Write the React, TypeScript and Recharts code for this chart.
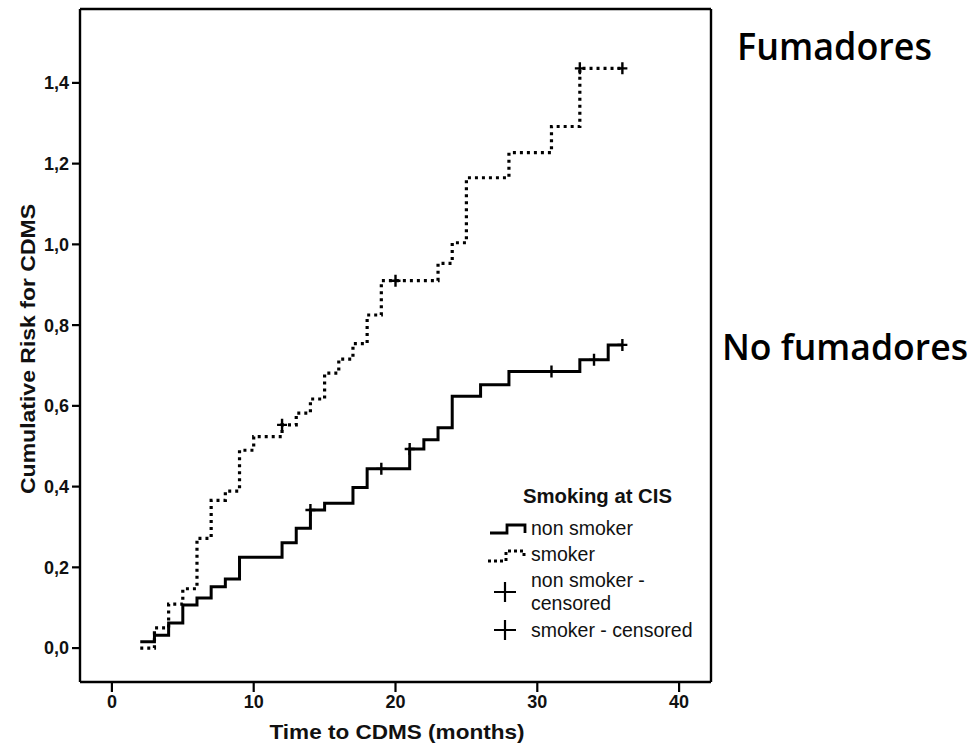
import React from 'react';
import {
  ComposedChart, Line, Scatter, XAxis, YAxis, Legend, Customized,
} from 'recharts';

// Time to CDMS (months) at each step and cumulative risk after the step
const nonSmokerTimes = [2, 3, 4, 5, 6, 7, 8, 9, 12, 13, 14, 15, 17, 18, 21, 22, 23, 24, 26, 28, 33, 35, 36];
const nonSmokerRisk = [0.016, 0.032, 0.062, 0.107, 0.124, 0.152, 0.171, 0.225, 0.261, 0.297, 0.342, 0.359, 0.398, 0.444, 0.493, 0.516, 0.546, 0.624, 0.652, 0.685, 0.714, 0.751, 0.751];

const smokerTimes = [2, 3, 4, 5, 6, 7, 8, 9, 10, 12, 13, 14, 15, 16, 17, 18, 19, 23, 24, 25, 28, 31, 33, 36];
const smokerRisk = [0.0, 0.05, 0.109, 0.147, 0.272, 0.366, 0.389, 0.49, 0.524, 0.553, 0.582, 0.617, 0.681, 0.716, 0.754, 0.825, 0.91, 0.953, 1.004, 1.165, 1.227, 1.292, 1.436, 1.436];

// Censored observations
const nonSmokerCensTimes = [14, 19, 21, 31, 34, 36];
const nonSmokerCensRisk = [0.342, 0.444, 0.493, 0.685, 0.714, 0.751];
const smokerCensTimes = [12, 20, 33, 36];
const smokerCensRisk = [0.553, 0.91, 1.436, 1.436];

const xTicks = [0, 10, 20, 30, 40];
const yTicks = [0, 0.2, 0.4, 0.6, 0.8, 1.0, 1.2, 1.4];
const xDomain = [-2.25, 42.25];
const yDomain = [-0.084, 1.583];

const toRows = (ts: number[], vs: number[]) => ts.map((t, i) => ({ t, risk: vs[i] }));
const nonSmokerData = toRows(nonSmokerTimes, nonSmokerRisk);
const smokerData = toRows(smokerTimes, smokerRisk);
const nonSmokerCens = toRows(nonSmokerCensTimes, nonSmokerCensRisk);
const smokerCens = toRows(smokerCensTimes, smokerCensRisk);

const FONT = '"Liberation Sans", Arial, sans-serif';

const Plus = (props: any) => {
  const { cx, cy } = props;
  if (cx == null || cy == null) return null;
  return (
    <path d={`M${cx - 5},${cy} H${cx + 5} M${cx},${cy - 6} V${cy + 6}`} stroke="#000" strokeWidth={2.4} fill="none" />
  );
};

const LegendBox = () => (
  <svg width={240} height={170} style={{ display: 'block', overflow: 'visible' }}>
    <g fontFamily={FONT} fill="#111">
      <text x={43} y={23} fontSize={20} fontWeight="bold" textLength={149} lengthAdjust="spacingAndGlyphs">Smoking at CIS</text>
      <path d="M10,53 H27 V45 H45 V53" stroke="#000" strokeWidth={2.8} fill="none" />
      <text x={51} y={55} fontSize={19.5}>non smoker</text>
      <path d="M8,81 H26 V71 H44 V79" stroke="#000" strokeWidth={3} strokeDasharray="3 3" fill="none" />
      <text x={51} y={81} fontSize={19.5}>smoker</text>
      <path d="M14,112 H36 M25,102 V122" stroke="#000" strokeWidth={2.2} fill="none" />
      <text x={51} y={107} fontSize={19.5}>non smoker -</text>
      <text x={51} y={130} fontSize={19.5}>censored</text>
      <path d="M14,150 H36 M25,140 V160" stroke="#000" strokeWidth={2.2} fill="none" />
      <text x={51} y={157} fontSize={19.5}>smoker - censored</text>
    </g>
  </svg>
);

const SideTexts = () => (
  <g>
    <text x={28} y={349} transform="rotate(-90 28 349)" textAnchor="middle" dominantBaseline="central" fontFamily={FONT} fontWeight="bold" fontSize={20} textLength={290} lengthAdjust="spacingAndGlyphs" fill="#111">Cumulative Risk for CDMS</text>
    <text x={397} y={739} textAnchor="middle" fontFamily={FONT} fontWeight="bold" fontSize={21} textLength={255} lengthAdjust="spacingAndGlyphs" fill="#111">Time to CDMS (months)</text>
    <text x={737} y={60} fontFamily='"Open Sans", sans-serif' fontWeight={600} fontSize={37} textLength={195} lengthAdjust="spacingAndGlyphs" fill="#000">Fumadores</text>
    <text x={722} y={360} fontFamily='"Open Sans", sans-serif' fontWeight={600} fontSize={36} textLength={246} lengthAdjust="spacingAndGlyphs" fill="#000">No fumadores</text>
  </g>
);

const fmt = (v: number) => v.toFixed(1).replace('.', ',');

export default function App() {
  const tickStyle = { fontFamily: FONT, fontWeight: 'bold' as const, fontSize: 18, fill: '#111' };
  return (
    <div style={{ position: 'absolute', left: 0, top: 0, width: 976, height: 746, background: '#fff' }}>
      <ComposedChart width={976} height={746} margin={{ top: 8, left: 79, right: 264, bottom: 63 }}>
        <XAxis
          type="number" dataKey="t" domain={xDomain} ticks={xTicks} allowDataOverflow
          height={1} tickSize={10} tickMargin={3}
          axisLine={{ stroke: '#000', strokeWidth: 2.4 }} tickLine={{ stroke: '#000', strokeWidth: 2.2 }}
          tick={tickStyle} interval={0}
        />
        <XAxis xAxisId="top" orientation="top" type="number" dataKey="t" domain={xDomain} height={1}
          tick={false} tickLine={false} axisLine={{ stroke: '#000', strokeWidth: 2.4 }} />
        <YAxis
          type="number" domain={yDomain} ticks={yTicks} allowDataOverflow
          width={1} tickSize={8} tickMargin={3} tickFormatter={fmt}
          axisLine={{ stroke: '#000', strokeWidth: 2.4 }} tickLine={{ stroke: '#000', strokeWidth: 2.2 }}
          tick={tickStyle} interval={0}
        />
        <YAxis yAxisId="right" orientation="right" type="number" domain={yDomain} width={1}
          tick={false} tickLine={false} axisLine={{ stroke: '#000', strokeWidth: 2.4 }} />
        <Line data={nonSmokerData} dataKey="risk" type="stepAfter" stroke="#000" strokeWidth={3}
          dot={false} activeDot={false} isAnimationActive={false} name="non smoker" />
        <Line data={smokerData} dataKey="risk" type="stepAfter" stroke="#000" strokeWidth={3.2}
          strokeDasharray="3 4" dot={false} activeDot={false} isAnimationActive={false} name="smoker" />
        <Scatter data={nonSmokerCens} dataKey="risk" shape={Plus} isAnimationActive={false} name="non smoker - censored" />
        <Scatter data={smokerCens} dataKey="risk" shape={Plus} isAnimationActive={false} name="smoker - censored" />
        <Legend layout="horizontal" verticalAlign="middle" align="center"
          wrapperStyle={{ left: 480, top: 480, width: 240, height: 170 }} content={() => <LegendBox />} />
        <Customized component={SideTexts} />
      </ComposedChart>
    </div>
  );
}
